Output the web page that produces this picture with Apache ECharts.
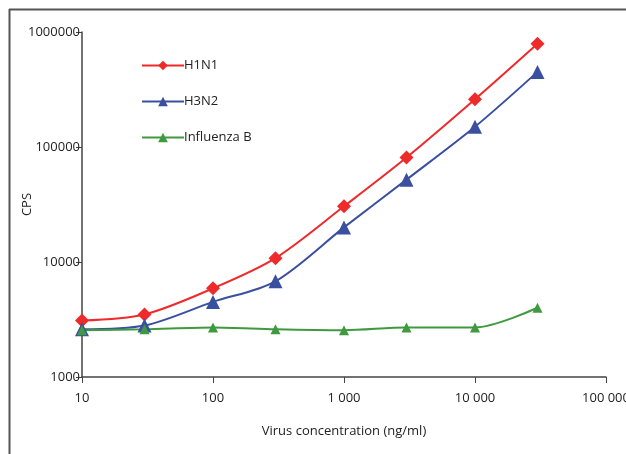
<!DOCTYPE html>
<html><head><meta charset="utf-8">
<script src="https://cdn.jsdelivr.net/npm/echarts@6/dist/echarts.min.js"></script>
<style>html,body{margin:0;padding:0;background:#fff}#c{width:626px;height:454px}</style>
</head><body><div id="c"></div>
<script>
var concentrations = [10, 30, 100, 300, 1000, 3000, 10000, 30000];
var h1n1 = [3100, 3500, 5900, 10800, 30500, 81000, 260000, 790000];
var h3n2 = [2600, 2800, 4500, 6800, 20000, 52000, 150000, 450000];
var fluB = [2550, 2600, 2700, 2600, 2550, 2700, 2700, 4000];
var seriesNames = ['H1N1', 'H3N2', 'Influenza B'];
var xTitle = 'Virus concentration (ng/ml)';
var yTitle = 'CPS';

function pairs(vals){ return concentrations.map(function(x,i){return [x, vals[i]];}); }
function fmtX(v){ return String(Math.round(v)).replace(/\B(?=(\d{3})+(?!\d))/g, ' '); }
function fmtY(v){ return String(Math.round(v)); }
var font = 'Open Sans';
var chart = echarts.init(document.getElementById('c'));
chart.setOption({
  animation: false,
  textStyle: {fontFamily: font},
  grid: {left: 82, top: 32, right: 20, bottom: 77, containLabel: false, outerBoundsMode: 'none'},
  legend: {
    orient: 'vertical', left: 136, top: 54, itemGap: 23, itemWidth: 42, itemHeight: 12,
    textStyle: {fontFamily: font, fontSize: 13, color: '#222', padding: [0,0,0,-5]},
    data: seriesNames
  },
  xAxis: {
    type: 'log', logBase: 10, min: 10, max: 100000,
    name: xTitle, nameLocation: 'middle', nameGap: 48, nameMoveOverlap: false,
    nameTextStyle: {fontFamily: font, fontSize: 13, color: '#222'},
    axisLine: {lineStyle: {color: '#444', width: 1.5}},
    axisTick: {show: true, length: 6, lineStyle: {color: '#444'}},
    minorTick: {show: false},
    splitLine: {show: false},
    axisLabel: {formatter: fmtX, margin: 15, fontFamily: font, fontSize: 13, color: '#222'}
  },
  yAxis: {
    type: 'log', logBase: 10, min: 1000, max: 1000000,
    name: yTitle, nameLocation: 'middle', nameGap: 48, nameRotate: 90, nameMoveOverlap: false,
    nameTextStyle: {fontFamily: font, fontSize: 13, color: '#222'},
    axisLine: {show: true, lineStyle: {color: '#444', width: 1.5}},
    axisTick: {show: true, length: 6, lineStyle: {color: '#444'}},
    splitLine: {show: false},
    axisLabel: {formatter: fmtY, margin: 2, fontFamily: font, fontSize: 13, color: '#222'}
  },
  series: [
    {name: seriesNames[0], type: 'line', smooth: 0.3, data: pairs(h1n1),
     symbol: 'diamond', symbolSize: 14, itemStyle: {color: '#ee2a2a'}, lineStyle: {color: '#ee2a2a', width: 2}},
    {name: seriesNames[1], type: 'line', smooth: 0.3, data: pairs(h3n2),
     symbol: 'triangle', symbolSize: 14, itemStyle: {color: '#3a4fa0'}, lineStyle: {color: '#3a4fa0', width: 2}},
    {name: seriesNames[2], type: 'line', smooth: 0.3, data: pairs(fluB),
     symbol: 'triangle', symbolSize: 10, itemStyle: {color: '#3f9a3f'}, lineStyle: {color: '#3f9a3f', width: 2}}
  ],
  graphic: [
    {type: 'line', shape: {x1: 9, y1: 9.5, x2: 626, y2: 9.5}, style: {stroke: '#555', lineWidth: 2}},
    {type: 'line', shape: {x1: 9.5, y1: 9, x2: 9.5, y2: 454}, style: {stroke: '#555', lineWidth: 2}}
  ]
});
</script></body></html>
